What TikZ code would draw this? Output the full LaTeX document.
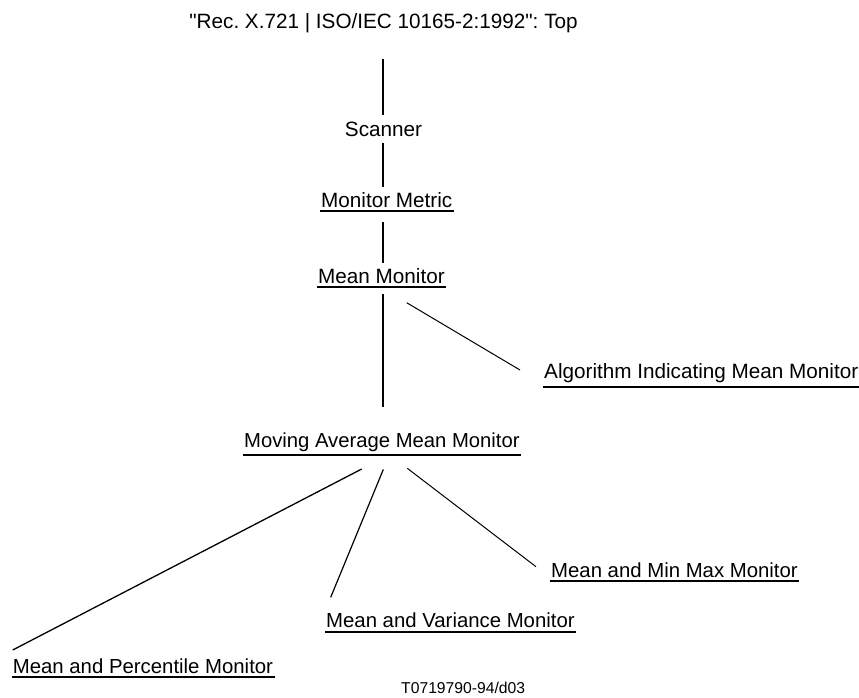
\documentclass[tikz,border=0pt]{standalone}
\usepackage{fontspec}
\setmainfont{Liberation Sans}
\frenchspacing
\begin{document}
\begin{tikzpicture}[x=1pt,y=-1pt,
  lbl/.style={inner sep=0pt,font=\fontsize{20.7}{24}\selectfont},
  ulbl/.style={lbl,anchor=base west},
  small/.style={font=\fontsize{20.35}{24}\selectfont},
  ul/.style={line width=2pt},
  vline/.style={line width=2pt},
  dline/.style={line width=1pt}]
\useasboundingbox[fill=white] (0,0) rectangle (859,697);
% texts
\node[lbl,anchor=base] (top) at (383.5,28) {\textquotedbl Rec. X.721 | ISO/IEC 10165-2:1992\textquotedbl: Top};
\node[lbl,anchor=base] (scan) at (383.5,136) {Scanner};
\node[ulbl] (mm) at (321,207) {Monitor Metric};
\node[ulbl] (mean) at (318,283) {Mean Monitor};
\node[ulbl] (alg) at (544,378) {Algorithm Indicating Mean Monitor};
\node[ulbl,font=\fontsize{20.25}{24}\selectfont] (mov) at (244,447) {Moving Average Mean Monitor};
\node[ulbl,small] (minmax) at (551,577) {Mean and Min Max Monitor};
\node[ulbl,small] (var) at (326,627.5) {Mean and Variance Monitor};
\node[ulbl,small] (perc) at (12.7,673) {Mean and Percentile Monitor};
\node[inner sep=0pt,anchor=base west,font=\fontsize{15.7}{18}\selectfont] (tag) at (401,693.5) {T0719790-94/d03};
% underlines
\foreach \n in {mm,mean,alg,mov,minmax,var,perc}
  \draw[ul] ([shift={(-1pt,-4pt)}]\n.south west) -- ([shift={(1.5pt,-4pt)}]\n.south east);
% connector end points
\coordinate (t0) at (383.3,59);
\coordinate (s1) at (383.3,115);
\coordinate (s2) at (383.3,143);
\coordinate (m1) at (383.3,187);
\coordinate (m2) at (383.3,222);
\coordinate (e1) at (383.3,263);
\coordinate (e2) at (383.3,294);
\coordinate (e3) at (406.7,302.7);
\coordinate (a1) at (520,370);
\coordinate (v1) at (383.3,407);
\coordinate (f1) at (361.7,469);
\coordinate (f2) at (383.3,469.5);
\coordinate (f3) at (407.3,468.3);
\coordinate (p1) at (12.7,650);
\coordinate (r1) at (330.7,597.3);
\coordinate (x1) at (536,566.7);
% connectors
\draw[vline] (t0) -- (s1);
\draw[vline] (s2) -- (m1);
\draw[vline] (m2) -- (e1);
\draw[vline] (e2) -- (v1);
\draw[dline] (e3) -- (a1);
\draw[dline,line width=1.3pt] (f1) -- (p1);
\draw[dline,line width=1.2pt] (f2) -- (r1);
\draw[dline] (f3) -- (x1);
\end{tikzpicture}
\end{document}
